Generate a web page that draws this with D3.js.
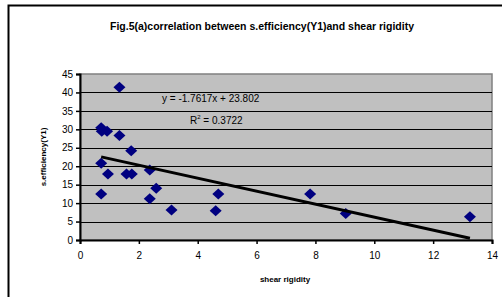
<!DOCTYPE html>
<html>
<head>
<meta charset="utf-8">
<script src="https://cdn.jsdelivr.net/npm/d3@7"></script>
<style>
  body { margin: 0; background: #fff; }
  svg { display: block; font-family: "Liberation Sans", Arial, sans-serif; }
</style>
</head>
<body>
<svg id="chart" width="502" height="297"></svg>
<script>
// Fig.5(a) — s.efficiency(Y1) vs shear rigidity

// Data
const shearRigidity = [1.34, 0.72, 0.74, 0.92, 1.34, 1.74, 0.72, 0.95, 1.58, 1.76, 2.37, 0.72, 2.37, 2.59, 3.11, 4.70, 4.61, 7.82, 9.03, 13.25];
const efficiency    = [41.4, 30.4, 29.5, 29.5, 28.3, 24.2, 20.8, 17.9, 17.9, 17.9, 19.0, 12.5, 11.2, 14.0, 8.1, 12.5, 7.9, 12.5, 7.2, 6.3];
const xTicks = [0, 2, 4, 6, 8, 10, 12, 14];
const yTicks = [0, 5, 10, 15, 20, 25, 30, 35, 40, 45];
const slope = -1.7617;
const intercept = 23.802;
const equationText = "y = -1.7617x + 23.802";
const r2Value = "0.3722";

const points = shearRigidity.map((x, i) => ({ x: x, y: efficiency[i] }));

const svg = d3.select("#chart");
const margin = { left: 80, right: 10, top: 74, bottom: 57 };
const width = +svg.attr("width");
const height = +svg.attr("height");

const x = d3.scaleLinear().domain([0, 14]).range([margin.left, width - margin.right]);
const y = d3.scaleLinear().domain([0, 45]).range([height - margin.bottom, margin.top]);

// Outer frame (cut off at right/bottom in the source)
svg.append("path")
    .attr("d", "M8.5,297 V5.5 H502")
    .attr("fill", "none")
    .attr("stroke", "#000")
    .attr("stroke-width", 2);

// Title
svg.append("text")
    .attr("x", 262)
    .attr("y", 30)
    .attr("text-anchor", "middle")
    .attr("font-size", 10.5)
    .attr("font-weight", "bold")
    .text("Fig.5(a)correlation between s.efficiency(Y1)and shear rigidity");

// Plot area
svg.append("rect")
    .attr("x", x(0))
    .attr("y", y(45))
    .attr("width", x(14) - x(0))
    .attr("height", y(0) - y(45))
    .attr("fill", "#c0c0c0")
    .attr("stroke", "#808080")
    .attr("stroke-width", 1.5);

// Gridlines
svg.append("g")
    .selectAll("line")
    .data(yTicks.filter(d => d > 0 && d < 45))
    .join("line")
    .attr("x1", x(0))
    .attr("x2", x(14))
    .attr("y1", d => Math.round(y(d)) + 0.5)
    .attr("y2", d => Math.round(y(d)) + 0.5)
    .attr("stroke", "#000")
    .attr("stroke-width", 1);

// Axes
const xAxis = svg.append("g")
    .attr("transform", `translate(0,${y(0)})`)
    .call(d3.axisBottom(x).tickValues(xTicks).tickSize(4).tickPadding(8));
const yAxis = svg.append("g")
    .attr("transform", `translate(${x(0)},0)`)
    .call(d3.axisLeft(y).tickValues(yTicks).tickSize(4).tickPadding(3));

[xAxis, yAxis].forEach(g => {
    g.select(".domain").attr("stroke", "#000").attr("stroke-width", 2);
    g.selectAll(".tick line").attr("stroke", "#000").attr("stroke-width", 1.5);
    g.selectAll(".tick text")
        .attr("font-size", 10)
        .attr("font-family", "Liberation Sans, Arial, sans-serif")
        .attr("fill", "#000");
});

// Axis titles
svg.append("text")
    .attr("x", 285)
    .attr("y", 282)
    .attr("text-anchor", "middle")
    .attr("font-size", 8)
    .attr("font-weight", "bold")
    .text("shear rigidity");

svg.append("text")
    .attr("transform", `translate(46,${(y(0) + y(45)) / 2}) rotate(-90)`)
    .attr("text-anchor", "middle")
    .attr("font-size", 8)
    .attr("font-weight", "bold")
    .text("s.efficiency(Y1)");

// Diamonds
const diamond = "M0,-5.5 L6,0 L0,5.5 L-6,0 Z";
svg.append("g")
    .selectAll("path")
    .data(points)
    .join("path")
    .attr("d", diamond)
    .attr("transform", d => `translate(${x(d.x)},${y(d.y)})`)
    .attr("fill", "#000080");

// Linear trendline
const xMin = d3.min(shearRigidity);
const xMax = d3.max(shearRigidity);
svg.append("line")
    .attr("x1", x(xMin))
    .attr("y1", y(slope * xMin + intercept))
    .attr("x2", x(xMax))
    .attr("y2", y(slope * xMax + intercept))
    .attr("stroke", "#000")
    .attr("stroke-width", 3);

// Equation labels
svg.append("text")
    .attr("x", 162)
    .attr("y", 102)
    .attr("font-size", 10)
    .text(equationText);

const r2 = svg.append("text")
    .attr("x", 190)
    .attr("y", 124)
    .attr("font-size", 10);
r2.append("tspan").text("R");
r2.append("tspan").attr("font-size", 6).attr("dy", -5).text("2");
r2.append("tspan").attr("dy", 5).text(" = " + r2Value);
</script>
</body>
</html>
